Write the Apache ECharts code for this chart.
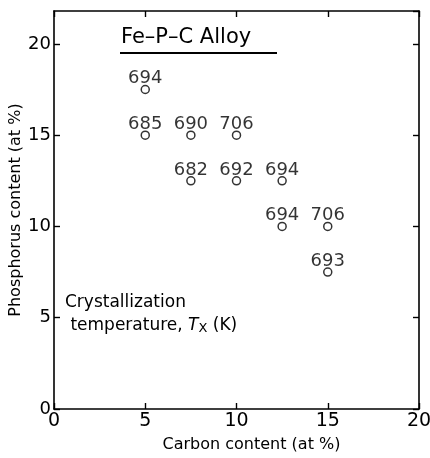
<!DOCTYPE html>
<html>
<head>
<meta charset="utf-8">
<script src="https://cdn.jsdelivr.net/npm/echarts@6/dist/echarts.min.js"></script>
<style>html,body{margin:0;padding:0;background:#fff;}#c{width:430px;height:458px;}</style>
</head>
<body>
<div id="c"></div>
<script>
// Data
const carbon     = [5,    5,    7.5,  10,   7.5,  10,   12.5, 12.5, 15,   15];
const phosphorus = [17.5, 15,   15,   15,   12.5, 12.5, 12.5, 10,   10,   7.5];
const tx         = [694,  685,  690,  706,  682,  692,  694,  694,  706,  693];
const xTicks = [0, 5, 10, 15, 20];
const yTicks = [0, 5, 10, 15, 20];

const FONT = 'DejaVu Sans';
const chart = echarts.init(document.getElementById('c'), null, {renderer: 'canvas'});

const points = carbon.map((c, i) => [c, phosphorus[i], tx[i]]);

const axisLine = {show: true, onZero: false, lineStyle: {color: '#000', width: 1.6}};
const axisTick = {show: true, inside: true, length: 6, lineStyle: {color: '#000', width: 1.4}};

chart.setOption({
  animation: false,
  backgroundColor: '#fff',
  grid: {left: 54, right: 11, top: 11, bottom: 49, containLabel: false, outerBoundsMode: 'none'},
  xAxis: [{
    type: 'value', min: xTicks[0], max: xTicks[xTicks.length - 1], interval: 5,
    position: 'bottom',
    axisLine, axisTick,
    splitLine: {show: false},
    axisLabel: {color: '#000', fontFamily: FONT, fontSize: 19, margin: 3},
    name: 'Carbon content (at %)', nameLocation: 'middle', nameGap: 28, nameMoveOverlap: false,
    nameTextStyle: {color: '#000', fontFamily: FONT, fontSize: 16, padding: [0, 0, 0, 30]}
  }, {
    type: 'value', min: xTicks[0], max: xTicks[xTicks.length - 1], interval: 5,
    position: 'top',
    axisLine, axisTick,
    splitLine: {show: false},
    axisLabel: {show: false}
  }],
  yAxis: [{
    type: 'value', min: 0, max: 21.8, interval: 5,
    position: 'left',
    axisLine, axisTick,
    splitLine: {show: false},
    axisLabel: {color: '#000', fontFamily: FONT, fontSize: 18, margin: 3, showMaxLabel: false,
      formatter: v => (yTicks.indexOf(v) >= 0 ? String(v) : '')},
    name: 'Phosphorus content (at %)', nameLocation: 'middle', nameGap: 30, nameMoveOverlap: false,
    nameTextStyle: {color: '#000', fontFamily: FONT, fontSize: 16}
  }, {
    type: 'value', min: 0, max: 21.8, interval: 5,
    position: 'right',
    axisLine, axisTick,
    splitLine: {show: false},
    axisLabel: {show: false}
  }],
  series: [{
    type: 'scatter',
    xAxisIndex: 0, yAxisIndex: 0,
    data: points,
    symbol: 'circle',
    symbolSize: 8,
    itemStyle: {color: '#fff', borderColor: '#000', borderWidth: 1.5},
    label: {
      show: true, position: 'top', distance: -3,
      formatter: p => String(p.value[2]),
      color: '#000', fontFamily: FONT, fontSize: 18
    },
    emphasis: {disabled: true}
  }],
  graphic: [{
    type: 'text', left: 121, top: 27,
    style: {text: 'Fe–P–C Alloy', fill: '#000', font: '21px "DejaVu Sans"'}
  }, {
    type: 'line', shape: {x1: 120, y1: 53, x2: 277, y2: 53},
    style: {stroke: '#000', lineWidth: 1.8}
  }, {
    type: 'text', left: 65, top: 294,
    style: {
      text: '{a|Crystallization}\n{a| temperature, }{i|T}{s|X}{a| (K)}',
      rich: {
        a: {fill: '#000', fontFamily: FONT, fontSize: 17, lineHeight: 23},
        i: {fill: '#000', fontFamily: FONT, fontSize: 17, fontStyle: 'italic', lineHeight: 23},
        s: {fill: '#000', fontFamily: FONT, fontSize: 13, lineHeight: 23, padding: [6, 0, 0, 0]}
      }
    }
  }]
});
</script>
</body>
</html>
